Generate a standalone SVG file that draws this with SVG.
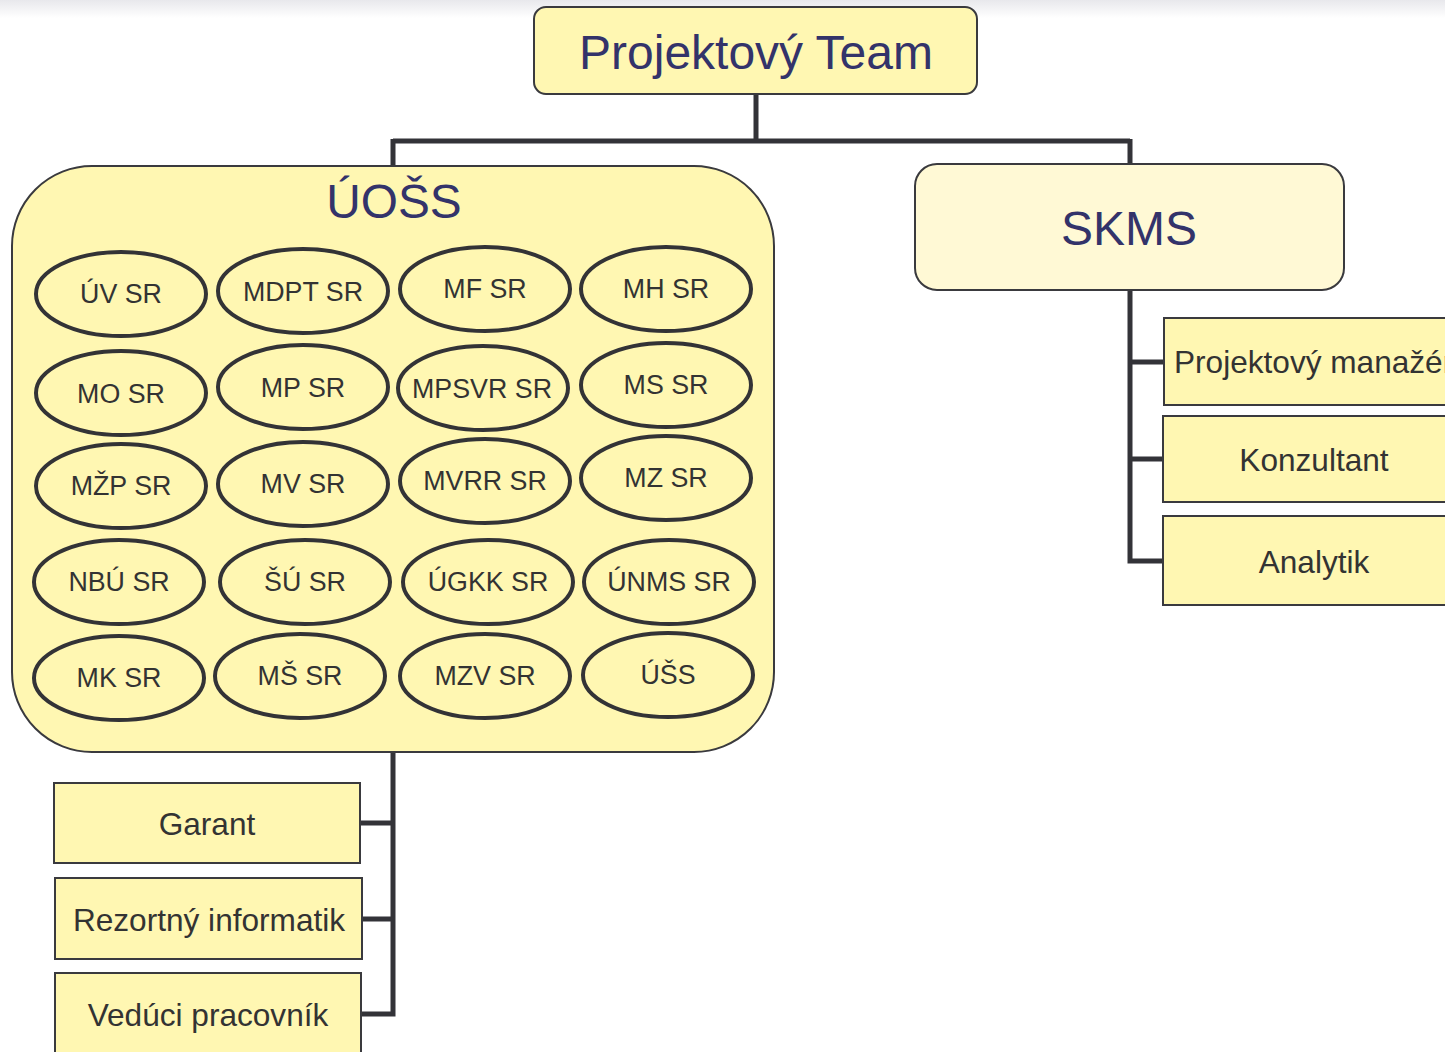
<svg xmlns="http://www.w3.org/2000/svg" width="1445" height="1052" viewBox="0 0 1445 1052">
<defs>
<linearGradient id="topfade" x1="0" y1="0" x2="0" y2="1">
<stop offset="0" stop-color="#e8e8ec"/>
<stop offset="1" stop-color="#ffffff"/>
</linearGradient>
</defs>
<style>
.box{fill:#fff7b2;stroke:#3a3a3e;stroke-width:2}
.light{fill:#fff9d5;stroke:#3a3a3e;stroke-width:2}
.ell{fill:#fff7b2;stroke:#333336;stroke-width:4}
.conn{fill:none;stroke:#333338;stroke-width:5;stroke-linejoin:miter}
.title{font-family:"Liberation Sans",Arial,sans-serif;fill:#33336a;text-anchor:middle}
.lbl{font-family:"Liberation Sans",Arial,sans-serif;fill:#333333;text-anchor:middle;font-size:26.8px}
.role{font-family:"Liberation Sans",Arial,sans-serif;fill:#333333;text-anchor:middle;font-size:31.6px}
</style>
<rect x="0" y="0" width="1445" height="1052" fill="#ffffff"/>
<rect x="0" y="0" width="1445" height="18" fill="url(#topfade)"/>
<g id="connectors">
<path class="conn" d="M756,94 V141 M393,141 H1130 M393,139 V166 M1130,139 V164"/>
<path class="conn" d="M1130,290 V561 H1164 M1130,362 H1164 M1130,459 H1164"/>
<path class="conn" d="M393,752 V1014 H361 M393,823 H360 M393,919 H362"/>
</g>
<g id="projektovy-team">
<rect class="box" x="534" y="7" width="443" height="87" rx="12"/>
<text class="title" x="756" y="69" font-size="48">Projektový Team</text>
</g>
<g id="uoss">
<rect class="box" x="12" y="166" width="762" height="586" rx="80"/>
<text class="title" x="394" y="218" font-size="47.8">ÚOŠS</text>
</g>
<g id="skms">
<rect class="light" x="915" y="164" width="429" height="126" rx="22"/>
<text class="title" x="1129" y="245" font-size="48">SKMS</text>
</g>
<g id="n-uv"><ellipse class="ell" cx="121" cy="294" rx="85" ry="42"/><text class="lbl" x="121" y="303">ÚV SR</text></g>
<g id="n-mdpt"><ellipse class="ell" cx="303" cy="291" rx="85" ry="42"/><text class="lbl" x="303" y="301">MDPT SR</text></g>
<g id="n-mf"><ellipse class="ell" cx="485" cy="289" rx="85" ry="42"/><text class="lbl" x="485" y="298">MF SR</text></g>
<g id="n-mh"><ellipse class="ell" cx="666" cy="289" rx="85" ry="42"/><text class="lbl" x="666" y="298">MH SR</text></g>
<g id="n-mo"><ellipse class="ell" cx="121" cy="393" rx="85" ry="42"/><text class="lbl" x="121" y="403">MO SR</text></g>
<g id="n-mp"><ellipse class="ell" cx="303" cy="387" rx="85" ry="42"/><text class="lbl" x="303" y="397">MP SR</text></g>
<g id="n-mpsvr"><ellipse class="ell" cx="483" cy="388" rx="85" ry="42"/><text class="lbl" x="482" y="398">MPSVR SR</text></g>
<g id="n-ms"><ellipse class="ell" cx="666" cy="385" rx="85" ry="42"/><text class="lbl" x="666" y="394">MS SR</text></g>
<g id="n-mzp"><ellipse class="ell" cx="121" cy="486" rx="85" ry="42"/><text class="lbl" x="121" y="495">MŽP SR</text></g>
<g id="n-mv"><ellipse class="ell" cx="303" cy="484" rx="85" ry="42"/><text class="lbl" x="303" y="493">MV SR</text></g>
<g id="n-mvrr"><ellipse class="ell" cx="485" cy="481" rx="85" ry="42"/><text class="lbl" x="485" y="490">MVRR SR</text></g>
<g id="n-mz"><ellipse class="ell" cx="666" cy="478" rx="85" ry="42"/><text class="lbl" x="666" y="487">MZ SR</text></g>
<g id="n-nbu"><ellipse class="ell" cx="119" cy="582" rx="85" ry="42"/><text class="lbl" x="119" y="591">NBÚ SR</text></g>
<g id="n-su"><ellipse class="ell" cx="305" cy="582" rx="85" ry="42"/><text class="lbl" x="305" y="591">ŠÚ SR</text></g>
<g id="n-ugkk"><ellipse class="ell" cx="488" cy="582" rx="85" ry="42"/><text class="lbl" x="488" y="591">ÚGKK SR</text></g>
<g id="n-unms"><ellipse class="ell" cx="669" cy="582" rx="85" ry="42"/><text class="lbl" x="669" y="591">ÚNMS SR</text></g>
<g id="n-mk"><ellipse class="ell" cx="119" cy="678" rx="85" ry="42"/><text class="lbl" x="119" y="687">MK SR</text></g>
<g id="n-ms2"><ellipse class="ell" cx="300" cy="676" rx="85" ry="42"/><text class="lbl" x="300" y="685">MŠ SR</text></g>
<g id="n-mzv"><ellipse class="ell" cx="485" cy="676" rx="85" ry="42"/><text class="lbl" x="485" y="685">MZV SR</text></g>
<g id="n-uss"><ellipse class="ell" cx="668" cy="675" rx="85" ry="42"/><text class="lbl" x="668" y="684">ÚŠS</text></g>
<g id="projektovy-manazer">
<rect class="box" x="1164" y="318" width="302" height="87"/>
<text class="role" x="1174" y="373" style="text-anchor:start">Projektový manažér</text>
</g>
<g id="konzultant">
<rect class="box" x="1163" y="416" width="302" height="86"/>
<text class="role" x="1314" y="471">Konzultant</text>
</g>
<g id="analytik">
<rect class="box" x="1163" y="516" width="302" height="89"/>
<text class="role" x="1314" y="573">Analytik</text>
</g>
<g id="garant">
<rect class="box" x="54" y="783" width="306" height="80"/>
<text class="role" x="207" y="835">Garant</text>
</g>
<g id="rezortny-informatik">
<rect class="box" x="55" y="878" width="307" height="81"/>
<text class="role" x="209" y="931">Rezortný informatik</text>
</g>
<g id="veduci-pracovnik">
<rect class="box" x="55" y="973" width="306" height="90"/>
<text class="role" x="208" y="1026">Vedúci pracovník</text>
</g>
</svg>
